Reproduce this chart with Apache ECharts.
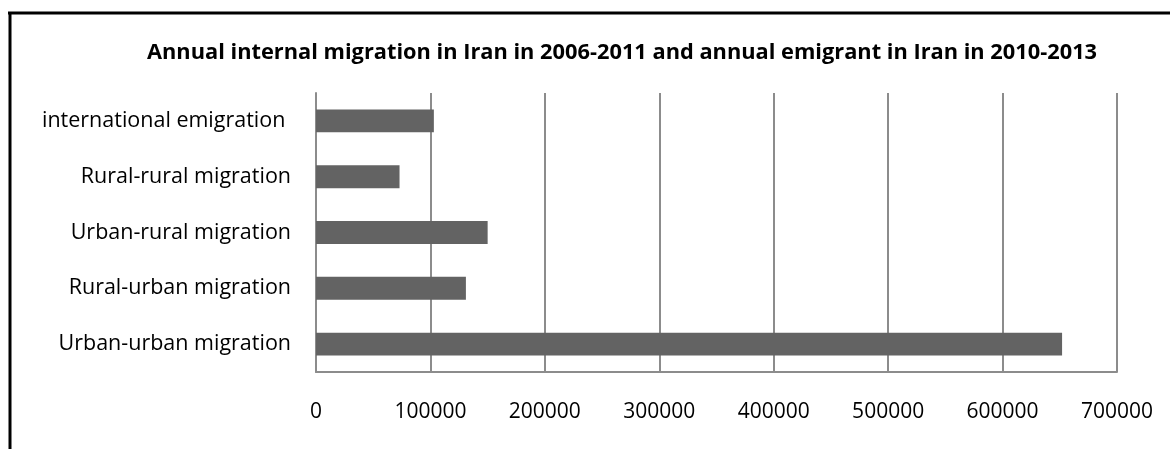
<!DOCTYPE html>
<html><head><meta charset="utf-8">
<script src="https://cdn.jsdelivr.net/npm/echarts@6/dist/echarts.min.js"></script>
<style>html,body{margin:0;padding:0;background:#fff}#c{width:1170px;height:449px}</style>
</head><body><div id="c"></div>
<script>
const categories = ['Urban-urban migration','Rural-urban migration','Urban-rural migration','Rural-rural migration','international emigration '];
const values = [652000, 131000, 150000, 73000, 103000];
const xTicks = [0, 700000, 100000];
const FONT = 'Open Sans';
const chart = echarts.init(document.getElementById('c'), null, {renderer:'canvas'});
chart.setOption({
  animation:false,
  title:{text:'Annual internal migration in Iran in 2006-2011 and annual emigrant in Iran in 2010-2013',
    left:142, top:37, textStyle:{fontFamily:FONT, fontWeight:'bold', fontSize:21.8, color:'#000'}},
  graphic:[
    {type:'line', shape:{x1:8,y1:13,x2:1170,y2:13}, style:{stroke:'#000', lineWidth:3}},
    {type:'line', shape:{x1:10,y1:12,x2:10,y2:449}, style:{stroke:'#000', lineWidth:3}}
  ],
  grid:{left:316, right:53, top:93, bottom:77},
  xAxis:{type:'value', min:xTicks[0], max:xTicks[1], interval:xTicks[2],
    axisLine:{show:true, lineStyle:{color:'#8c8c8c', width:2}}, axisTick:{show:false},
    splitLine:{show:true, lineStyle:{color:'#8c8c8c', width:2}},
    axisLabel:{fontFamily:FONT, fontSize:21, color:'#000', margin:30, formatter:v=>String(v)}},
  yAxis:{type:'category', data:categories,
    axisLine:{show:true, lineStyle:{color:'#8c8c8c', width:2}}, axisTick:{show:false},
    axisLabel:{fontFamily:FONT, fontSize:21.5, color:'#000', margin:25}},
  series:[{type:'bar', data:values, barWidth:'41%', itemStyle:{color:'#636363'}}]
});
</script></body></html>
